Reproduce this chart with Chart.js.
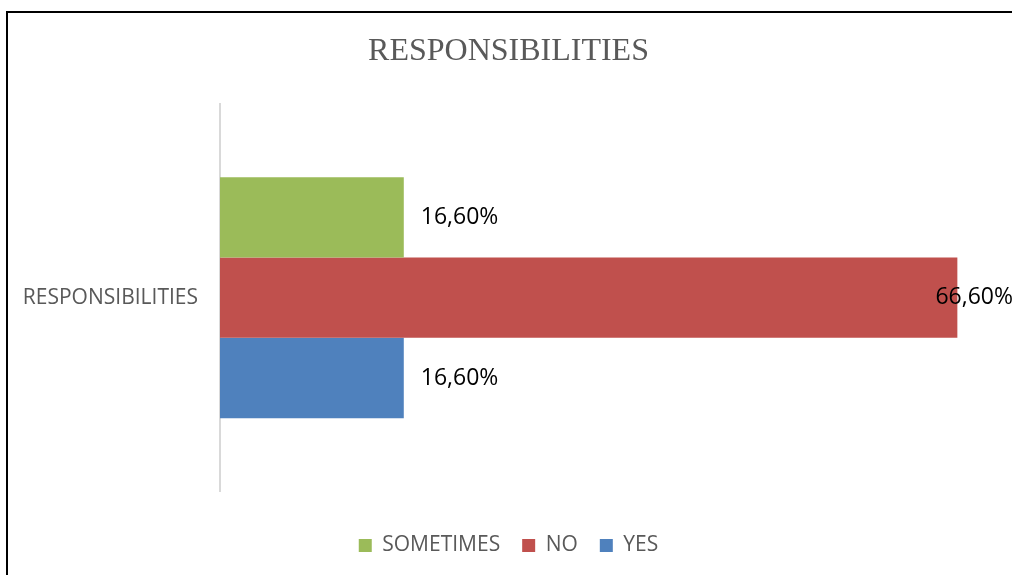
<!DOCTYPE html>
<html>
<head>
<meta charset="utf-8">
<script src="https://cdn.jsdelivr.net/npm/chart.js@4"></script>
<style>
  html, body { margin: 0; padding: 0; background: #fff; overflow: hidden; }
  #wrap { position: relative; width: 1012px; height: 575px; }
  #frame { position: absolute; left: 6px; top: 11px; width: 1100px; height: 700px;
           border: 2px solid #000; box-sizing: border-box; pointer-events: none; }
</style>
</head>
<body>
<div id="wrap">
  <canvas id="chart" width="1012" height="575"></canvas>
  <div id="frame"></div>
</div>
<script>
const categories = ["RESPONSIBILITIES"];
const seriesNames = ["SOMETIMES", "NO", "YES"];
const sometimesValues = [16.6];
const noValues = [66.6];
const yesValues = [16.6];
const seriesColors = ["#9BBB59", "#C0504D", "#4F81BD"];

const fmt = (v) => v.toFixed(2).replace(".", ",") + "%";

// value labels just past the bar end, kept inside the canvas like Excel does
const valueLabels = {
  id: "valueLabels",
  afterDatasetsDraw(chart) {
    const ctx = chart.ctx;
    ctx.save();
    ctx.font = "23px 'Open Sans'";
    ctx.fillStyle = "#000";
    ctx.textBaseline = "middle";
    ctx.textAlign = "left";
    chart.data.datasets.forEach((ds, i) => {
      chart.getDatasetMeta(i).data.forEach((bar, j) => {
        const txt = fmt(ds.data[j]);
        const w = ctx.measureText(txt).width;
        const x = Math.min(bar.x + 17, chart.width + 1 - w);
        ctx.fillText(txt, x, bar.y);
      });
    });
    ctx.restore();
  },
};

const seriesData = [sometimesValues, noValues, yesValues];

new Chart(document.getElementById("chart"), {
  type: "bar",
  data: {
    labels: categories,
    datasets: seriesNames.map((name, i) => ({
      label: name,
      data: seriesData[i],
      backgroundColor: seriesColors[i],
      categoryPercentage: 0.623,
      barPercentage: 1,
    })),
  },
  options: {
    indexAxis: "y",
    responsive: false,
    animation: false,
    layout: { padding: { left: 22, right: 17, top: 0, bottom: 9 } },
    scales: {
      x: {
        min: 0,
        max: 70,
        grid: { display: false },
        border: { display: false },
        ticks: { display: false },
        afterFit(scale) { scale.height = 22; },
      },
      y: {
        grid: { display: false },
        border: { color: "#d9d9d9", width: 2 },
        ticks: { color: "#595959", font: { family: "'Open Sans'", size: 21 }, padding: 14 },
        afterFit(scale) { scale.width = 198; },
      },
    },
    plugins: {
      title: {
        display: true,
        text: "RESPONSIBILITIES",
        color: "#595959",
        font: { family: "'Liberation Serif'", size: 32, weight: "normal" },
        padding: { top: 32, bottom: 34 },
      },
      legend: {
        position: "bottom",
        labels: {
          boxWidth: 13,
          boxHeight: 13,
          padding: 22,
          color: "#595959",
          font: { family: "'Open Sans'", size: 21 },
        },
      },
      tooltip: { enabled: false },
    },
  },
  plugins: [valueLabels],
});
</script>
</body>
</html>
